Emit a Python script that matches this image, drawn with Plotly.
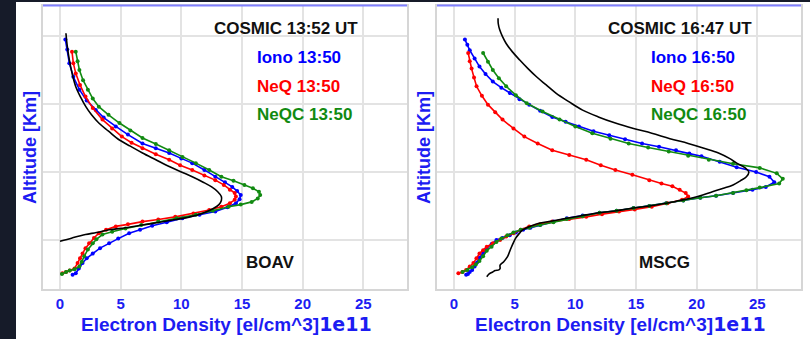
import plotly.graph_objects as go

# ---------------- data (Electron density in 1e11 el/cm^3 vs altitude in km) ----------------
# Left panel: BOAV
boav_iono_alt = [395, 380, 360, 340, 321, 305, 291, 280, 267, 255, 242, 235, 228, 220, 213, 203, 193, 185, 178, 172,
                 166, 160, 154, 148, 142, 137, 132, 126, 121, 115, 110, 102, 95, 88, 80, 73, 66, 58, 51, 49]
boav_iono_ne = [0.44, 0.6, 0.77, 1.1, 1.6, 2.2, 2.95, 3.6, 4.6, 5.6, 6.8, 7.9, 9.0, 10.0, 10.9, 11.9, 12.8, 13.6, 14.2, 14.6,
                14.9, 14.8, 14.5, 13.8, 12.8, 11.5, 10.1, 8.8, 7.6, 6.6, 5.7, 4.8, 4.05, 3.3, 2.7, 2.2, 1.86, 1.55, 1.3, 1.04]

boav_neq_alt = [377, 360, 345, 328, 311, 294, 277, 264, 252, 243, 235, 226, 218, 210, 203, 195, 188, 181, 174, 169, 164,
                159, 154, 149, 144, 139, 134, 130, 127, 123, 120, 115, 110, 103, 95, 88, 80, 73, 66, 58, 55, 53, 51]
boav_neq_ne = [0.99, 1.1, 1.3, 1.65, 2.1, 2.7, 3.5, 4.3, 5.1, 5.9, 6.8, 7.9, 9.0, 9.9, 10.9, 11.9, 12.8, 13.5, 14.0, 14.4, 14.5,
               14.4, 14.0, 13.3, 12.3, 11.0, 9.5, 8.1, 6.8, 5.6, 4.6, 3.8, 3.2, 2.8, 2.4, 2.1, 1.86, 1.65, 1.45, 1.2, 0.8, 0.5, 0.2]

boav_neqc_alt = [377, 363, 350, 335, 321, 308, 296, 284, 272, 261, 250, 241, 232, 222, 213, 203, 193, 187, 181, 176, 171,
                 166, 161, 156, 152, 149, 143, 137, 132, 127, 122, 117, 112, 108, 101, 95, 86, 76, 68, 61, 57, 55, 53, 50]
boav_neqc_ne = [1.3, 1.45, 1.6, 1.9, 2.3, 2.7, 3.2, 4.0, 4.9, 5.8, 6.8, 7.9, 9.0, 10.1, 11.2, 12.3, 13.3, 14.3, 15.2, 15.9, 16.4,
                16.5, 16.3, 15.8, 14.9, 13.9, 12.6, 11.2, 9.6, 8.1, 6.7, 5.4, 4.3, 3.5, 3.0, 2.7, 2.3, 2.0, 1.8, 1.6, 1.2, 0.8, 0.5, 0.16]

boav_cosmic_alt = [404, 385, 365, 345, 325, 310, 296, 284, 272, 260, 247, 238, 228, 218, 208, 200, 193, 185, 178, 171,
                   164, 158, 152, 146, 139, 134, 130, 126, 122, 118, 115, 111, 108, 103, 98]
boav_cosmic_ne = [0.49, 0.6, 0.77, 1.0, 1.31, 1.7, 2.13, 2.6, 3.2, 4.0, 4.9, 5.8, 6.8, 7.9, 9.0, 10.0, 10.9, 11.8, 12.5, 13.0,
                  13.3, 13.3, 13.1, 12.6, 11.7, 10.7, 9.5, 8.2, 6.8, 5.4, 4.05, 3.0, 2.1, 1.0, 0.0]

# Right panel: MSCG
mscg_iono_alt = [395, 387, 379, 367, 355, 344, 333, 324, 316, 307, 299, 290, 281, 274, 267, 260, 254, 248, 242, 237, 232,
                 227, 223, 215, 207, 200, 193, 185, 178, 174, 169, 165, 162, 158, 154, 150, 147, 143, 140, 136, 132, 127,
                 122, 118, 115, 111, 107, 103, 100, 94, 88, 81, 74, 67, 61, 56, 53, 50, 49]
mscg_iono_ne = [0.9, 1.1, 1.3, 1.7, 2.1, 2.6, 3.2, 3.9, 4.6, 5.4, 6.2, 7.1, 8.1, 9.2, 10.3, 11.5, 12.8, 14.1, 15.5, 16.9, 18.3,
                19.4, 20.4, 21.9, 23.3, 24.9, 26.0, 26.4, 25.7, 24.6, 23.0, 21.6, 20.3, 18.9, 17.5, 16.1, 14.8, 13.4, 12.0, 10.6,
                9.3, 8.2, 7.1, 6.3, 5.7, 5.1, 4.6, 4.0, 3.5, 3.1, 2.7, 2.4, 2.1, 1.9, 1.7, 1.5, 1.3, 1.15, 1.0]

mscg_neq_alt = [375, 363, 352, 339, 326, 312, 299, 288, 277, 264, 252, 242, 232, 225, 218, 210, 203, 196, 188, 183, 179, 174,
                169, 164, 159, 154, 149, 145, 142, 138, 134, 131, 127, 123, 120, 115, 110, 105, 100, 95, 90, 85, 80, 73, 66,
                61, 56, 53, 51]
mscg_neq_ne = [1.17, 1.3, 1.45, 1.65, 1.86, 2.3, 2.8, 3.4, 4.0, 4.9, 5.8, 6.9, 8.1, 9.5, 10.9, 12.1, 13.3, 14.7, 16.1, 17.1,
               18.0, 18.6, 19.1, 19.3, 18.8, 17.6, 16.3, 14.9, 13.6, 12.2, 10.9, 9.5, 8.1, 7.1, 6.2, 5.5, 4.9, 4.3, 3.8, 3.2,
               2.7, 2.4, 2.1, 1.85, 1.6, 1.3, 1.0, 0.7, 0.36]

mscg_neqc_alt = [375, 362, 350, 338, 326, 313, 301, 289, 277, 267, 257, 249, 242, 236, 230, 224, 218, 212, 206, 198, 190, 183,
                 177, 173, 169, 165, 162, 158, 154, 150, 147, 143, 140, 135, 131, 126, 122, 118, 115, 111, 107, 102, 97, 90,
                 84, 76, 69, 64, 60, 56, 53]
mscg_neqc_ne = [2.4, 2.8, 3.2, 3.7, 4.3, 5.1, 6.0, 7.3, 8.7, 10.0, 11.4, 12.9, 14.4, 16.0, 17.7, 19.3, 21.0, 23.0, 25.2, 26.6,
                27.1, 26.8, 25.2, 24.1, 23.0, 21.6, 20.3, 18.9, 17.5, 16.1, 14.8, 13.4, 12.0, 10.6, 9.3, 8.2, 7.1, 6.2, 5.5,
                4.9, 4.4, 3.9, 3.5, 3.1, 2.7, 2.4, 2.1, 1.8, 1.5, 1.1, 0.7]

mscg_cosmic_alt = [426, 418, 409, 399, 389, 377, 365, 352, 340, 328, 316, 303, 291, 281, 272, 264, 257, 249, 242, 235, 228,
                   220, 213, 206, 200, 193, 187, 181, 176, 171, 166, 162, 158, 154, 150, 147, 143, 140, 136, 132, 128, 125,
                   121, 118, 114, 110, 103, 96, 86, 75, 68, 63, 58, 56, 55, 53, 50, 46]
mscg_cosmic_ne = [3.63, 3.65, 3.77, 4.0, 4.3, 4.8, 5.4, 6.1, 6.8, 7.6, 8.4, 9.5, 10.6, 11.9, 13.3, 14.8, 16.3, 17.8, 19.3,
                  20.6, 21.8, 22.7, 23.3, 24.0, 24.3, 24.1, 23.6, 23.0, 22.2, 21.3, 20.5, 19.7, 18.6, 17.5, 16.1, 14.8, 13.4,
                  12.0, 10.6, 9.3, 8.1, 7.1, 6.4, 6.0, 5.6, 5.4, 5.1, 4.9, 4.65, 4.4, 4.1, 3.8, 3.8, 3.7, 3.4, 3.2, 2.9, 2.7]

x_ticks = [0, 5, 10, 15, 20, 25]
panel_labels = ["BOAV", "MSCG"]
cosmic_labels = ["COSMIC 13:52 UT", "COSMIC 16:47 UT"]
iono_labels = ["Iono 13:50", "Iono 16:50"]
neq_labels = ["NeQ 13:50", "NeQ 16:50"]
neqc_labels = ["NeQC 13:50", "NeQC 16:50"]

# ---------------- figure ----------------
W, H = 810, 339
BLUE = "#0000ff"
TBLUE = "#1c1cf2"
RED = "#ff0000"
GREEN = "#118a11"
FONT = "Liberation Sans"

fig = go.Figure()

def add_series(x, y, color, xa, ya, markers=True):
    fig.add_trace(go.Scatter(
        x=x, y=y, xaxis=xa, yaxis=ya,
        mode="lines+markers" if markers else "lines",
        line=dict(color=color, width=1.6, shape="linear" if markers else "spline"),
        marker=dict(color=color, size=4),
        showlegend=False, hoverinfo="skip"))

add_series(boav_iono_ne, boav_iono_alt, BLUE, "x", "y")
add_series(boav_neq_ne, boav_neq_alt, RED, "x", "y")
add_series(boav_neqc_ne, boav_neqc_alt, GREEN, "x", "y")
add_series(boav_cosmic_ne, boav_cosmic_alt, "black", "x", "y", markers=False)

add_series(mscg_iono_ne, mscg_iono_alt, BLUE, "x2", "y2")
add_series(mscg_neq_ne, mscg_neq_alt, RED, "x2", "y2")
add_series(mscg_neqc_ne, mscg_neqc_alt, GREEN, "x2", "y2")
add_series(mscg_cosmic_ne, mscg_cosmic_alt, "black", "x2", "y2", markers=False)

px = lambda v: v / W
py = lambda v: 1 - v / H

xdom1 = [px(43), px(407)]
xdom2 = [px(437), px(801)]
ydom = [py(289), py(6)]

xcommon = dict(range=[-1.4, 28.6], tickvals=x_ticks, showgrid=True, gridcolor="#e3e3e3", gridwidth=1.5,
               zeroline=False, showline=True, mirror=True, linecolor="#d6d6d6", linewidth=1.5,
               ticks="", ticklabelstandoff=0,
               tickfont=dict(family=FONT, size=15, color=TBLUE, weight="bold"))
ycommon = dict(range=[27.9, 444.1], tick0=0, dtick=100, showgrid=True, gridcolor="#e3e3e3", gridwidth=1.5,
               zeroline=False, showline=True, mirror=True, linecolor="#d6d6d6", linewidth=1.5,
               showticklabels=False, ticks="")

fig.update_layout(
    width=W, height=H, margin=dict(l=0, r=0, t=0, b=0),
    paper_bgcolor="white", plot_bgcolor="white",
    xaxis=dict(domain=xdom1, anchor="y", **xcommon),
    yaxis=dict(domain=ydom, anchor="x", **ycommon),
    xaxis2=dict(domain=xdom2, anchor="y2", **xcommon),
    yaxis2=dict(domain=ydom, anchor="x2", **ycommon),
)

shapes = [
    # dark window background strips
    dict(type="rect", xref="paper", yref="paper", x0=0, x1=px(16), y0=0, y1=1,
         fillcolor="#161b29", line=dict(width=0), layer="below"),
    dict(type="rect", xref="paper", yref="paper", x0=0, x1=1, y0=py(2), y1=1,
         fillcolor="#161b29", line=dict(width=0), layer="below"),
]
for d in (xdom1, xdom2):
    shapes.append(dict(type="line", xref="paper", yref="paper", x0=d[0], x1=d[1], y0=py(5.5), y1=py(5.5),
                       line=dict(color="#7f7fff", width=2.2), layer="above"))
fig.update_layout(shapes=shapes)

ann = []
def text(x, y, s, color, size, xanchor="center", angle=0):
    ann.append(dict(x=px(x), y=py(y), xref="paper", yref="paper", text=s, showarrow=False,
                    xanchor=xanchor, yanchor="middle", textangle=angle,
                    font=dict(family=FONT, size=size, color=color, weight="bold")))

for i, off in enumerate([0, 394]):
    text(286 + off, 29, cosmic_labels[i], "#111111", 17)
    text(255 + off, 58, iono_labels[i], BLUE, 17, xanchor="left")
    text(255 + off, 86, neq_labels[i], RED, 17, xanchor="left")
    text(255 + off, 114, neqc_labels[i], GREEN, 17, xanchor="left")
    text(270 + off, 262, panel_labels[i], "#111111", 17)
    text(226 + off, 324,
         "Electron Density [el/cm^3]<span style=\"font-family:'DejaVu Sans'\">1e11</span>", TBLUE, 19)
    text(30 + off, 148, "Altitude [Km]", TBLUE, 18, angle=-90)

fig.update_layout(annotations=ann)

fig.write_html("out.html")
